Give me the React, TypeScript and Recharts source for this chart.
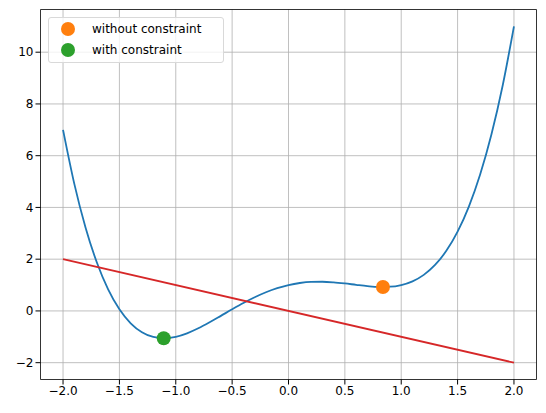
import React from "react";
import {
  ComposedChart,
  Line,
  Scatter,
  XAxis,
  YAxis,
  CartesianGrid,
  ReferenceArea,
} from "recharts";

const curveX = [
  -2.0, -1.9, -1.8, -1.7, -1.6, -1.5, -1.4, -1.3, -1.2, -1.1, -1.0, -0.9, -0.8, -0.7,
  -0.6, -0.5, -0.4, -0.3, -0.2, -0.1, 0.0, 0.1, 0.2, 0.3, 0.4, 0.5, 0.6, 0.7, 0.8, 0.9,
  1.0, 1.1, 1.2, 1.3, 1.4, 1.5, 1.6, 1.7, 1.8, 1.9, 2.0,
];
const curveY = [
  7.0, 4.9121, 3.2176, 1.8721, 0.8336, 0.0625, -0.4784, -0.8239, -1.0064, -1.0559, -1.0,
  -0.8639, -0.6704, -0.4399, -0.1904, 0.0625, 0.3056, 0.5281, 0.7216, 0.8801, 1.0, 1.0801,
  1.1216, 1.1281, 1.1056, 1.0625, 1.0096, 0.9601, 0.9296, 0.9361, 1.0, 1.1441, 1.3936,
  1.7761, 2.3216, 3.0625, 4.0336, 5.2721, 6.8176, 8.7121, 11.0,
];
const lineX = [-2, 2];
const lineY = [2, -2];
const withoutConstraint = { x: 0.838, y: 0.9266 };
const withConstraint = { x: -1.107, y: -1.0562 };
const xTicks = [-2, -1.5, -1, -0.5, 0, 0.5, 1, 1.5, 2];
const yTicks = [-2, 0, 2, 4, 6, 8, 10];
const legendLabels = ["without constraint", "with constraint"];

const curveData = curveX.map((x, i) => ({ x, y: curveY[i] }));
const lineData = lineX.map((x, i) => ({ x, y: lineY[i] }));

const BLUE = "#1f77b4";
const ORANGE = "#ff7f0e";
const GREEN = "#2ca02c";
const RED = "#d62728";
const FONT = "DejaVu Sans, sans-serif";

const fmt = (v: number) => v.toFixed(1).replace("-", "\u2212");
const fmtY = (v: number) => String(v).replace("-", "\u2212");

const Dot = (color: string) => (props: any) => (
  <circle cx={props.cx} cy={props.cy} r={7} fill={color} />
);

const LegendBox = () => (
  <div
    style={{
      position: "absolute",
      left: 48,
      top: 17,
      width: 176,
      height: 46,
      border: "1px solid #d9d9d9",
      borderRadius: 3,
      background: "rgba(255,255,255,0.8)",
      fontFamily: FONT,
      fontSize: 12,
      color: "#000",
      boxSizing: "border-box",
    }}
  >
    {legendLabels.map((lab, i) => (
      <div
        key={lab}
        style={{ position: "absolute", left: 0, top: 3 + i * 20.5, height: 16, display: "flex", alignItems: "center", whiteSpace: "nowrap" }}
      >
        <span
          style={{
            display: "inline-block",
            width: 14,
            height: 14,
            borderRadius: 7,
            background: i === 0 ? ORANGE : GREEN,
            marginLeft: 12,
            marginRight: 17,
          }}
        />
        <span>{lab}</span>
      </div>
    ))}
  </div>
);

export default function App() {
  return (
    <div style={{ position: "absolute", left: 0, top: 0, width: 546, height: 413, background: "#fff" }}>
      <ComposedChart
        width={546}
        height={413}
        margin={{ top: 9.5, right: 9.5, bottom: 0, left: 0 }}
      >
        <CartesianGrid stroke="#b0b0b0" strokeWidth={0.8} horizontalValues={yTicks} verticalValues={xTicks} />
        <XAxis
          type="number"
          dataKey="x"
          domain={[-2.2, 2.2]}
          ticks={xTicks}
          tickFormatter={fmt}
          allowDataOverflow
          height={33.5}
          tickSize={5}
          axisLine={false}
          tickLine={{ stroke: "#000" }}
          tick={{ fill: "#000", fontSize: 12, fontFamily: FONT }}
        />
        <YAxis
          type="number"
          dataKey="y"
          domain={[-2.65, 11.65]}
          ticks={yTicks}
          tickFormatter={fmtY}
          allowDataOverflow
          width={40.5}
          tickSize={5}
          axisLine={false}
          tickLine={{ stroke: "#000" }}
          tick={{ fill: "#000", fontSize: 12, fontFamily: FONT }}
        />
        <Line
          data={curveData}
          dataKey="y"
          type="monotone"
          stroke={BLUE}
          strokeWidth={1.8}
          dot={false}
          isAnimationActive={false}
        />
        <Line
          data={lineData}
          dataKey="y"
          type="linear"
          stroke={RED}
          strokeWidth={1.8}
          dot={false}
          isAnimationActive={false}
        />
        <Scatter data={[withoutConstraint]} dataKey="y" shape={Dot(ORANGE)} isAnimationActive={false} />
        <Scatter data={[withConstraint]} dataKey="y" shape={Dot(GREEN)} isAnimationActive={false} />
        <ReferenceArea
          x1={-2.2}
          x2={2.2}
          y1={-2.65}
          y2={11.65}
          fill="none"
          stroke="#000"
          strokeWidth={0.8}
          ifOverflow="visible"
        />
      </ComposedChart>
      <LegendBox />
    </div>
  );
}
